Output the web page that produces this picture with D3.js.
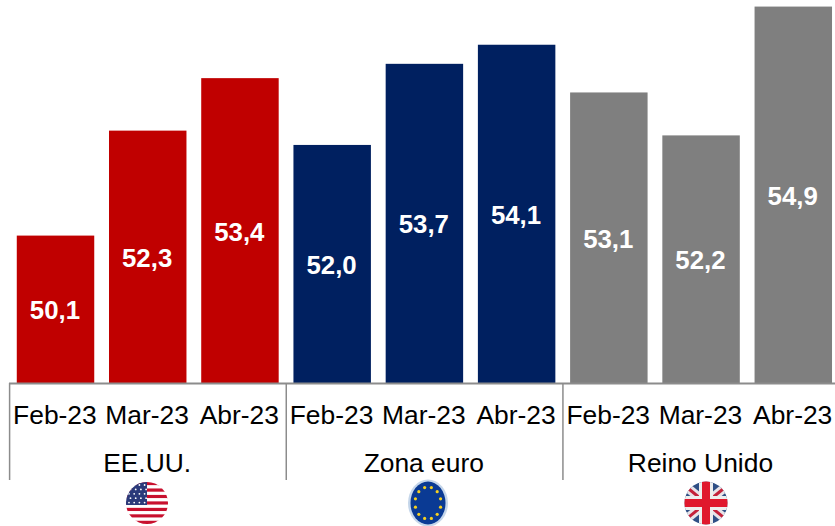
<!DOCTYPE html>
<html><head><meta charset="utf-8">
<script src="https://cdn.jsdelivr.net/npm/d3@7"></script>
<style>html,body{margin:0;background:#fff}svg{display:block}text{font-family:"Liberation Sans",Arial,sans-serif}</style>
</head><body><svg id="c" width="835" height="526"></svg>
<script>
const groups = ["EE.UU.","Zona euro","Reino Unido"];
const months = ["Feb-23","Mar-23","Abr-23"];
const values = [50.1,52.3,53.4,52.0,53.7,54.1,53.1,52.2,54.9];
const groupColors = ["#C00000","#002060","#7F7F7F"];
const rows = values.map((v,i)=>({key:i,value:v,month:months[i%3],group:groups[Math.floor(i/3)]}));

const svg = d3.select("#c");
const x = d3.scaleBand().domain(d3.range(values.length)).range([9.4,839.4]).paddingInner(0.16).paddingOuter(0.08);
const y = d3.scaleLinear().domain([47,55]).range([383.5,1.8]);
const color = d3.scaleOrdinal(groups,groupColors);
const comma = v => d3.format(".1f")(v).replace(".",",");

svg.selectAll("rect.bar").data(rows).join("rect").attr("class","bar")
 .attr("x",d=>x(d.key)).attr("width",x.bandwidth())
 .attr("y",d=>y(d.value)).attr("height",d=>y(47)-y(d.value))
 .attr("fill",d=>color(d.group));
svg.selectAll("text.val").data(rows).join("text").attr("class","val")
 .attr("x",d=>x(d.key)+x.bandwidth()/2-0.6)
 .attr("y",d=>(y(d.value)+383)/2+10)
 .attr("text-anchor","middle").attr("font-size",25.8).attr("font-weight","bold").attr("fill","#fff")
 .text(d=>comma(d.value));

const axisCol="#8C8C8C";
svg.append("line").attr("x1",9).attr("x2",835).attr("y1",383.5).attr("y2",383.5).attr("stroke",axisCol).attr("stroke-width",2);
const step = x.step();
const sep = i => 9.6 + i*3*step;
[0,1,2].forEach(i=>svg.append("line").attr("x1",sep(i)).attr("x2",sep(i)).attr("y1",383).attr("y2",480).attr("stroke",axisCol).attr("stroke-width",1.5));
svg.selectAll("text.month").data(rows).join("text").attr("class","month")
 .attr("x",d=>x(d.key)+x.bandwidth()/2-0.6).attr("y",423.5)
 .attr("text-anchor","middle").attr("font-size",26.4).attr("fill","#000").text(d=>d.month);
svg.selectAll("text.group").data(groups).join("text").attr("class","group")
 .attr("x",(d,i)=>x(i*3+1)+x.bandwidth()/2-0.6).attr("y",471.5)
 .attr("text-anchor","middle").attr("font-size",26.4).attr("fill","#000").text(d=>d);

// Flags
const defs = svg.append("defs");
const usStripes = d3.range(13);
const usG = svg.append("g");
defs.append("clipPath").attr("id","us").append("circle").attr("cx",147).attr("cy",503).attr("r",21);
usG.attr("clip-path","url(#us)");
usStripes.forEach(i=>usG.append("rect").attr("x",126).attr("width",42).attr("y",482+i*42/13).attr("height",42/13+.3).attr("fill",i%2?"#fff":"#C8102E"));
usG.append("rect").attr("x",126).attr("y",482).attr("width",21).attr("height",23).attr("fill","#2B3A7A");
d3.range(5).forEach(r=>d3.range(4).forEach(c=>usG.append("circle").attr("cx",129+c*5.2+(r%2)*1.5).attr("cy",485+r*4.4).attr("r",.9).attr("fill","#fff")));

const euG = svg.append("g");
euG.append("ellipse").attr("cx",428).attr("cy",503).attr("rx",20).attr("ry",23.5).attr("fill","#C5D6EA");
euG.append("ellipse").attr("cx",428).attr("cy",503).attr("rx",17.5).attr("ry",21.5).attr("fill","#0A3A94");
d3.range(12).forEach(i=>{const a=(i+.5)/12*2*Math.PI;euG.append("circle").attr("cx",428+13*Math.sin(a)).attr("cy",503-16*Math.cos(a)).attr("r",1.6).attr("fill","#F5D020");});

defs.append("clipPath").attr("id","uk").append("circle").attr("cx",706).attr("cy",503).attr("r",21.5);
const ukG = svg.append("g").attr("clip-path","url(#uk)");
ukG.append("rect").attr("x",684).attr("y",481).attr("width",44).attr("height",44).attr("fill","#2F4F85");
[[684,485,728,521],[684,521,728,485]].forEach(p=>{
 ukG.append("line").attr("x1",p[0]).attr("y1",p[1]).attr("x2",p[2]).attr("y2",p[3]).attr("stroke","#E8E4E8").attr("stroke-width",9);
 ukG.append("line").attr("x1",p[0]).attr("y1",p[1]).attr("x2",p[2]).attr("y2",p[3]).attr("stroke","#C4213A").attr("stroke-width",3);
});
ukG.append("rect").attr("x",684).attr("y",496).attr("width",44).attr("height",14).attr("fill","#EEE");
ukG.append("rect").attr("x",699).attr("y",481).attr("width",14).attr("height",44).attr("fill","#EEE");
ukG.append("rect").attr("x",684).attr("y",499).attr("width",44).attr("height",8).attr("fill","#E0182D");
ukG.append("rect").attr("x",702).attr("y",481).attr("width",8).attr("height",44).attr("fill","#E0182D");
</script></body></html>
